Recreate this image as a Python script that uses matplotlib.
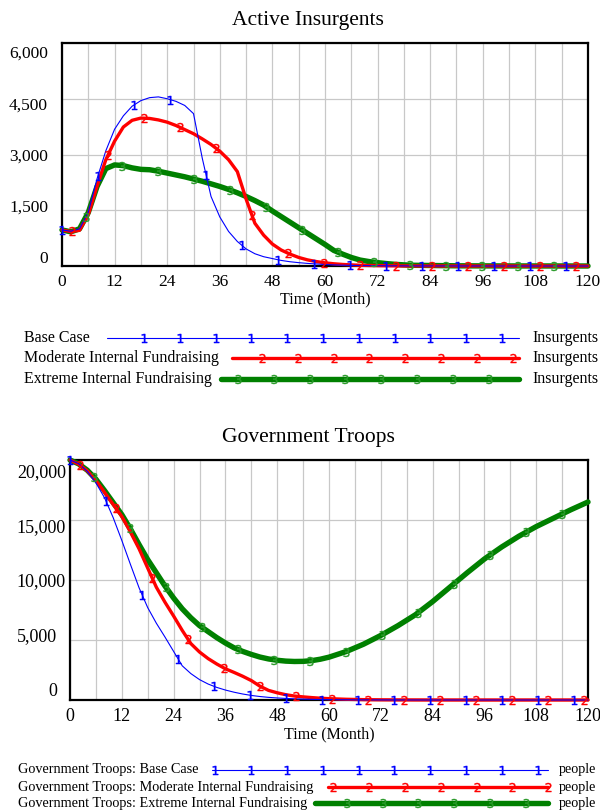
import matplotlib

matplotlib.use("Agg")
import matplotlib.pyplot as plt
import matplotlib.transforms as mtransforms
import numpy as np

plt.rcParams["font.family"] = ["Liberation Serif", "DejaVu Serif"]

months_ins = [0, 2, 4, 6, 8, 10, 12, 14, 16, 18, 20, 22, 24, 26, 28, 30, 32, 34, 36, 38,
              40, 42, 44, 46, 48, 50, 52, 54, 56, 58, 60, 62, 64, 66, 68, 70, 72, 74, 76, 78,
              80, 90, 100, 110, 120]
ins_base = [970, 935, 1000, 1450, 2350, 3100, 3680, 4040, 4300, 4450, 4530, 4550, 4500, 4430,
            4320, 4100, 2900, 1870, 1320, 930, 660, 460, 330, 250, 200, 150, 115, 90, 70, 55,
            40, 30, 22, 16, 12, 9, 7, 5, 4, 3, 2, 1, 0, 0, 0]
ins_moderate = [970, 925, 960, 1380, 2150, 2860, 3360, 3740, 3920, 3980, 3970, 3930, 3870, 3780,
                3670, 3560, 3420, 3270, 3090, 2860, 2540, 1800, 1150, 830, 590, 430, 320, 230,
                165, 120, 85, 60, 42, 30, 20, 14, 10, 7, 5, 3, 2, 1, 0, 0, 0]
ins_extreme = [970, 920, 1000, 1440, 2140, 2620, 2720, 2700, 2640, 2600, 2590, 2550, 2500, 2450,
               2400, 2340, 2280, 2210, 2140, 2060, 1970, 1870, 1760, 1640, 1480, 1330, 1180,
               1030, 880, 730, 580, 420, 320, 230, 160, 120, 90, 65, 45, 30, 20, 5, 2, 1, 0]

months_troops = [0, 2, 4, 6, 8, 10, 12, 14, 16, 18, 20, 22, 24, 26, 28, 30, 32, 34, 36, 38,
                 40, 42, 44, 46, 48, 50, 52, 54, 56, 58, 60, 64, 68, 72, 76, 80, 84, 88, 92,
                 96, 100, 104, 108, 112, 116, 120]
troops_base = [20000, 19700, 19050, 18100, 16850, 15200, 13300, 11300, 9350, 7700, 6400, 5250,
               4050, 2850, 2200, 1700, 1330, 1050, 830, 650, 500, 380, 290, 220, 170, 130, 100,
               75, 55, 40, 30, 17, 10, 6, 4, 2, 1, 1, 1, 1, 0, 0, 0, 0, 0, 0]
troops_moderate = [20000, 19650, 19100, 18300, 17300, 16300, 15300, 14000, 12600, 11000, 9400,
                   8150, 7000, 5800, 4700, 4000, 3450, 3000, 2600, 2300, 1980, 1620, 1150, 800,
                   600, 440, 330, 260, 200, 150, 110, 60, 30, 15, 8, 4, 2, 1, 0, 0, 0, 0, 0, 0,
                   0, 0]
troops_extreme = [20000, 19680, 19150, 18400, 17450, 16450, 15450, 14250, 12950, 11700, 10600,
                  9500, 8500, 7600, 6850, 6200, 5700, 5200, 4750, 4350, 4050, 3800, 3580, 3420,
                  3310, 3240, 3210, 3220, 3280, 3400, 3570, 4040, 4650, 5380, 6200, 7100, 8200,
                  9400, 10600, 11750, 12750, 13650, 14450, 15150, 15850, 16500]

scenarios = ["Base Case", "Moderate Internal Fundraising", "Extreme Internal Fundraising"]
colors = ["#0000ff", "#ff0000", "#008000"]
marker_colors = ["#0000ff", "#ff0000", "#2a9a2a"]
widths = [0.8, 2.4, 3.9]
numbers = ["$1$", "$2$", "$3$"]
phase_px = [0, 10, 24]   # Vensim staggers the series numbers
MARK_PX = 36             # one number every 36 pixels

W, H = 600, 811
fig = plt.figure(figsize=(W / 100, H / 100), dpi=100)


def px_box(left, top, right, bottom):
    return [left / W, 1 - bottom / H, (right - left) / W, (bottom - top) / H]


def style_axes(ax, yticks, ylabels, ytick_size, ypad, yshift, width_px, wide_shift=0):
    ax.set_xlim(0, 120)
    ax.set_xticks(range(0, 121, 12))
    ax.set_xticks(range(0, 121, 6), minor=True)
    ax.set_yticks(yticks)
    ax.set_yticklabels(ylabels)
    ax.grid(True, which="both", axis="x", color="#c8c8c8", lw=0.9)
    ax.grid(True, which="major", axis="y", color="#c8c8c8", lw=0.9)
    ax.set_axisbelow(True)
    ax.tick_params(which="both", length=0)
    ax.tick_params(axis="y", labelsize=ytick_size, pad=ypad)
    ax.tick_params(axis="x", labelsize=ytick_size, pad=6)
    for sp in ax.spines.values():
        sp.set_linewidth(1.6)
        sp.set_color("black")
    n = len(yticks)
    for i, lab in enumerate(ax.get_yticklabels()):
        dy = yshift * (1 - 2 * i / (n - 1))
        dx = wide_shift if len(lab.get_text()) > 5 else 0
        off = mtransforms.ScaledTranslation(dx / 100, dy / 100, fig.dpi_scale_trans)
        lab.set_transform(lab.get_transform() + off)
    ax.set_xlabel("Time (Month)", fontsize=11.5, labelpad=1)


def draw_series(ax, months, series, width_px):
    step = MARK_PX * 120 / width_px
    for k in [2, 1, 0]:
        vals = series[k]
        ax.plot(months, vals, color=colors[k], lw=widths[k], clip_on=False,
                zorder=3 + (2 - k), solid_capstyle="round")
        mx = np.arange(phase_px[k] * 120 / width_px, 120.01, step)
        ax.plot(mx, np.interp(mx, months, vals), ls="none", marker=numbers[k],
                ms=6.5, color=marker_colors[k], mew=0.3, clip_on=False, zorder=6)


# ---- top: Active Insurgents ----
ax1 = fig.add_axes(px_box(62, 43, 588, 266))
ax1.set_ylim(0, 6000)
draw_series(ax1, months_ins, [ins_base, ins_moderate, ins_extreme], 526)
style_axes(ax1, [0, 1500, 3000, 4500, 6000], ["0", "1,500", "3,000", "4,500", "6,000"],
           12.5, 10, 9, 526)
fig.text(308 / W, 1 - 20 / H, "Active Insurgents", ha="center", va="center", fontsize=15.5)

# ---- bottom: Government Troops ----
ax2 = fig.add_axes(px_box(70, 460, 588, 700))
ax2.set_ylim(0, 20000)
draw_series(ax2, months_troops, [troops_base, troops_moderate, troops_extreme], 518)
style_axes(ax2, [0, 5000, 10000, 15000, 20000], ["0", "5,000", "10,000", "15,000", "20,000"],
           13, 9.5, 11, 518, wide_shift=9)
fig.text(308 / W, 1 - 437 / H, "Government Troops", ha="center", va="center", fontsize=15.5)

# ---- Vensim style legends ----
leg = fig.add_axes([0, 0, 1, 1])
leg.set_xlim(0, W)
leg.set_ylim(H, 0)
leg.axis("off")


def legend_block(rows, label_x, line_end, unit_x, unit, fontsize, first_marks):
    for k, (y, name, x0) in enumerate(rows):
        leg.text(label_x, y, name, ha="left", va="center", fontsize=fontsize)
        leg.plot([x0, line_end], [y, y], color=colors[k], lw=widths[k],
                 solid_capstyle="round")
        mx = np.arange(first_marks[k], line_end + 0.5, 35.8)
        leg.plot(mx, np.full(len(mx), y), ls="none", marker=numbers[k], ms=6.5,
                 color=marker_colors[k], mew=0.3)
        leg.text(unit_x, y, unit, ha="left", va="center", fontsize=fontsize)


legend_block([(338, scenarios[0], 107), (358, scenarios[1], 232), (379, scenarios[2], 221)],
             24, 519, 532, "Insurgents", 11.5, [144, 262, 238])
legend_block([(770, "Government Troops: " + scenarios[0], 212),
              (787, "Government Troops: " + scenarios[1], 328),
              (803, "Government Troops: " + scenarios[2], 315)],
             18.5, 548, 559, "people", 10.3, [215.4, 333.3, 346.7])

fig.savefig("out.png", dpi=100)
